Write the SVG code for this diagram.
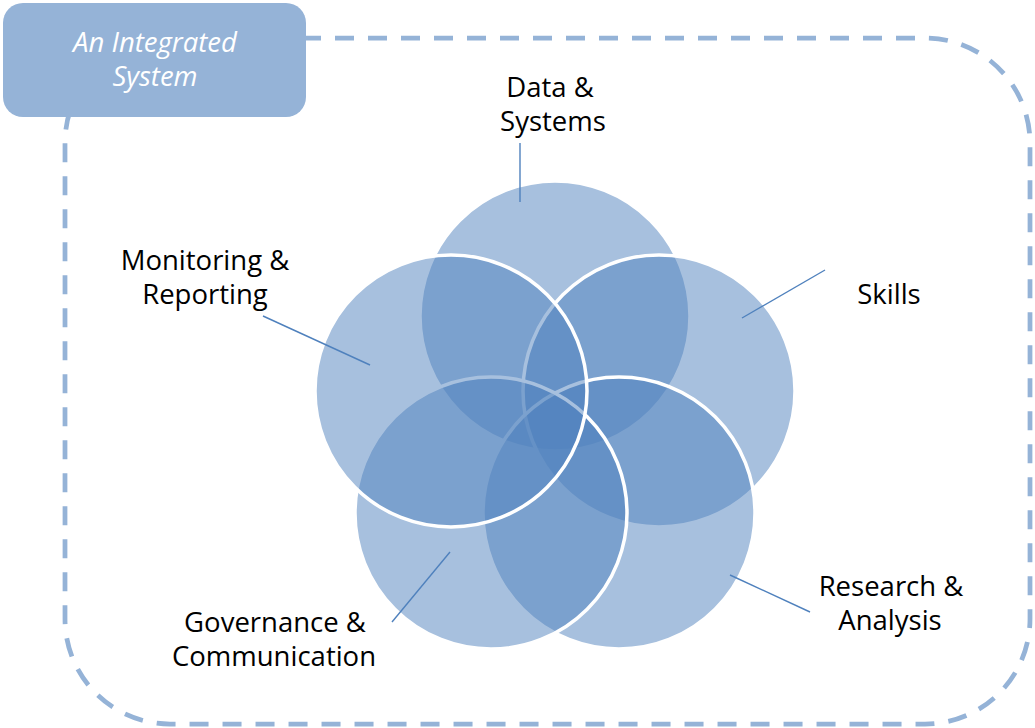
<svg xmlns="http://www.w3.org/2000/svg" width="1035" height="728" viewBox="0 0 1035 728">
  <style>
    .frame { fill: none; stroke: #95b3d7; stroke-width: 4.75; stroke-dasharray: 19 14; }
    .title-box { fill: #95b3d7; }
    .title { font-family: "Open Sans", "Liberation Sans", sans-serif; font-style: italic; font-size: 27.5px; fill: #ffffff; text-anchor: middle; }
    .ring { fill: #4f81bd; fill-opacity: 0.5; stroke: #ffffff; stroke-width: 3.5; }
    .label { font-family: "Open Sans", "Liberation Sans", sans-serif; font-size: 27.5px; fill: #000000; text-anchor: middle; }
    .leader { stroke: #4f81bd; stroke-width: 1.4; fill: none; }
  </style>

  <!-- dashed system boundary -->
  <rect class="frame" x="65" y="38" width="965" height="686" rx="105" ry="105"/>

  <!-- title tab -->
  <g id="title">
    <rect class="title-box" x="3" y="3" width="303" height="114" rx="20" ry="20"/>
    <text class="title" x="155" y="52">An Integrated</text>
    <text class="title" x="155" y="86">System</text>
  </g>

  <!-- five overlapping circles, drawn in order -->
  <g id="data-systems">
    <circle class="ring" cx="555" cy="316" r="135"/>
  </g>
  <g id="skills">
    <circle class="ring" cx="659" cy="391" r="136"/>
  </g>
  <g id="research-analysis">
    <circle class="ring" cx="619" cy="513" r="136"/>
  </g>
  <g id="governance-communication">
    <circle class="ring" cx="491" cy="513" r="136"/>
  </g>
  <g id="monitoring-reporting">
    <circle class="ring" cx="451" cy="391" r="136"/>
  </g>

  <!-- leader lines -->
  <g id="connectors">
    <line class="leader" x1="520" y1="143" x2="520" y2="202"/>
    <line class="leader" x1="825" y1="270" x2="742" y2="318"/>
    <line class="leader" x1="730" y1="575" x2="810" y2="612"/>
    <line class="leader" x1="450" y1="552" x2="392" y2="622"/>
    <line class="leader" x1="263" y1="316" x2="370" y2="365"/>
  </g>

  <!-- labels -->
  <g id="label-data">
    <text class="label" x="550" y="97">Data &amp;</text>
    <text class="label" x="553" y="131">Systems</text>
  </g>
  <g id="label-skills">
    <text class="label" x="889" y="304">Skills</text>
  </g>
  <g id="label-research">
    <text class="label" x="891" y="596">Research &amp;</text>
    <text class="label" x="890" y="630">Analysis</text>
  </g>
  <g id="label-governance">
    <text class="label" x="275" y="632">Governance &amp;</text>
    <text class="label" x="274" y="666">Communication</text>
  </g>
  <g id="label-monitoring">
    <text class="label" x="205" y="270">Monitoring &amp;</text>
    <text class="label" x="205" y="304">Reporting</text>
  </g>
</svg>
